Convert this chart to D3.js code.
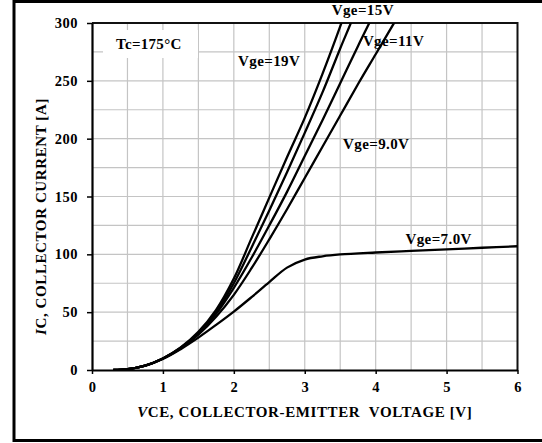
<!DOCTYPE html>
<html>
<head>
<meta charset="utf-8">
<script src="https://cdn.jsdelivr.net/npm/d3@7"></script>
<style>
  html, body { margin: 0; padding: 0; background: #fff; }
  svg { display: block; }
  text { font-family: "Liberation Serif", "Times New Roman", serif; font-weight: bold; fill: #000; }
</style>
</head>
<body>
<svg id="chart" width="542" height="443"></svg>
<script>
// Output characteristics: collector current vs collector-emitter voltage, Tc = 175°C
const xTicks = [0, 1, 2, 3, 4, 5, 6];
const yTicks = [0, 50, 100, 150, 200, 250, 300];
const xGrid = [0.5, 1, 1.5, 2, 2.5, 3, 3.5, 4, 4.5, 5, 5.5];
const yGrid = [25, 50, 75, 100, 125, 150, 175, 200, 225, 250, 275];

// [VCE (V), IC (A)] for each gate voltage
const vge19 = [[0.3,0],[0.5,0.7],[0.75,3.8],[1.0,10],[1.25,19.5],[1.5,33],[1.75,52],[2.0,79],[2.25,114],[2.5,149],[2.75,184],[3.0,218],[3.25,256],[3.5,297],[3.55,306]];
const vge15 = [[0.3,0],[0.5,0.7],[0.75,3.8],[1.0,10],[1.25,19],[1.5,32],[1.75,50],[2.0,75],[2.25,106],[2.5,138],[2.75,171],[3.0,205],[3.25,240],[3.5,278],[3.65,300],[3.7,308]];
const vge11 = [[0.3,0],[0.5,0.7],[0.75,3.8],[1.0,10],[1.25,19],[1.5,31.5],[1.75,48.5],[2.0,71],[2.25,97],[2.5,125],[2.75,154],[3.0,185],[3.25,216],[3.5,248],[3.75,280],[3.91,300],[3.95,305]];
const vge9 = [[0.3,0],[0.5,0.7],[0.75,3.8],[1.0,10],[1.25,18.5],[1.5,30.5],[1.75,46],[2.0,65],[2.25,88],[2.5,113],[2.75,139],[3.0,166],[3.25,193],[3.5,220],[3.75,247],[4.0,273],[4.25,299],[4.3,304]];
const vge7 = [[0.3,0],[0.5,0.7],[0.75,3.8],[1.0,9.5],[1.25,18],[1.5,28],[1.75,39],[2.0,50.5],[2.25,63],[2.5,76],[2.75,88.5],[3.0,95.5],[3.25,98.3],[3.5,99.9],[4.0,101.6],[4.5,103],[5.0,104.3],[5.5,105.7],[6.0,107]];

const seriesList = [vge19, vge15, vge11, vge9, vge7];

// Curve annotations: [text, VCE anchor, IC anchor]
const annotations = [
  ["Vge=19V", 2.06, 263],
  ["Vge=15V", 3.38, 307],
  ["Vge=11V", 3.82, 280],
  ["Vge=9.0V", 3.54, 191],
  ["Vge=7.0V", 4.42, 109]
];

const svg = d3.select("#chart");
const W = 542, H = 443;
const margin = { left: 92, right: 24.5, top: 23, bottom: 73 };

const x = d3.scaleLinear().domain([0, 6]).range([margin.left, W - margin.right]);
const y = d3.scaleLinear().domain([0, 300]).range([H - margin.bottom, margin.top]);

// outer frame
svg.append("rect")
  .attr("x", 14).attr("y", 1.5)
  .attr("width", 560).attr("height", 439)
  .attr("fill", "none").attr("stroke", "#000").attr("stroke-width", 3);

// grid
const grid = svg.append("g").attr("stroke", "#c4c4c4").attr("stroke-width", 1.2);
grid.selectAll("line.vx").data(xGrid).join("line")
  .attr("x1", d => x(d)).attr("x2", d => x(d))
  .attr("y1", y(0)).attr("y2", y(300));
grid.selectAll("line.hy").data(yGrid).join("line")
  .attr("x1", x(0)).attr("x2", x(6))
  .attr("y1", d => y(d)).attr("y2", d => y(d));

// temperature label with white background
svg.append("rect")
  .attr("x", 103).attr("y", 30).attr("width", 95).attr("height", 28)
  .attr("fill", "#fff");
svg.append("text")
  .attr("x", 116).attr("y", 48.5)
  .attr("font-size", 15)
  .attr("letter-spacing", 0.3)
  .text("Tc=175°C");

// plot border (top and right)
svg.append("path")
  .attr("d", `M${x(0)},${y(300)}H${x(6)}V${y(0)}`)
  .attr("fill", "none").attr("stroke", "#111").attr("stroke-width", 2);

// axes
const yAxis = d3.axisLeft(y).tickValues(yTicks).tickFormat(d3.format("d"))
  .tickSize(5).tickSizeOuter(0).tickPadding(9);
const xAxis = d3.axisBottom(x).tickValues(xTicks).tickFormat(d3.format("d"))
  .tickSize(4).tickSizeOuter(0).tickPadding(7.5);

const gy = svg.append("g").attr("transform", `translate(${x(0)},0)`).call(yAxis);
const gx = svg.append("g").attr("transform", `translate(0,${y(0)})`).call(xAxis);
[gx, gy].forEach(g => {
  g.select(".domain").attr("stroke", "#000").attr("stroke-width", 2.2);
  g.selectAll(".tick line").attr("stroke", "#000").attr("stroke-width", 1.5);
  g.selectAll(".tick text")
    .attr("font-family", "Liberation Serif, Times New Roman, serif")
    .attr("font-weight", "bold")
    .attr("font-size", 14.5)
    .attr("letter-spacing", 0.5)
    .attr("fill", "#000");
});

// curves
svg.append("clipPath").attr("id", "plotClip")
  .append("rect")
  .attr("x", x(0)).attr("y", y(300))
  .attr("width", x(6) - x(0)).attr("height", y(0) - y(300));

const line = d3.line()
  .x(d => x(d[0])).y(d => y(d[1]))
  .curve(d3.curveCatmullRom.alpha(0.5));

svg.append("g").attr("clip-path", "url(#plotClip)")
  .selectAll("path").data(seriesList).join("path")
  .attr("d", line)
  .attr("fill", "none")
  .attr("stroke", "#000")
  .attr("stroke-width", 2.3)
  .attr("stroke-linejoin", "round");

// curve labels
svg.append("g").selectAll("text").data(annotations).join("text")
  .attr("x", d => x(d[1])).attr("y", d => y(d[2]))
  .attr("font-size", 15)
  .attr("letter-spacing", 0.4)
  .text(d => d[0]);

// axis titles
const xt = svg.append("text")
  .attr("x", (x(0) + x(6)) / 2).attr("y", 417)
  .attr("text-anchor", "middle")
  .attr("font-size", 15)
  .attr("letter-spacing", 0.6);
xt.append("tspan").attr("font-style", "italic").text("V");
xt.append("tspan").text("CE, COLLECTOR-EMITTER\u00a0\u00a0VOLTAGE [V]");

const yt = svg.append("text")
  .attr("transform", `translate(46,${(y(0) + y(300)) / 2 + 20}) rotate(-90)`)
  .attr("text-anchor", "middle")
  .attr("font-size", 15)
  .attr("letter-spacing", 0.6);
yt.append("tspan").attr("font-style", "italic").text("I");
yt.append("tspan").text("C, COLLECTOR CURRENT [A]");
</script>
</body>
</html>
